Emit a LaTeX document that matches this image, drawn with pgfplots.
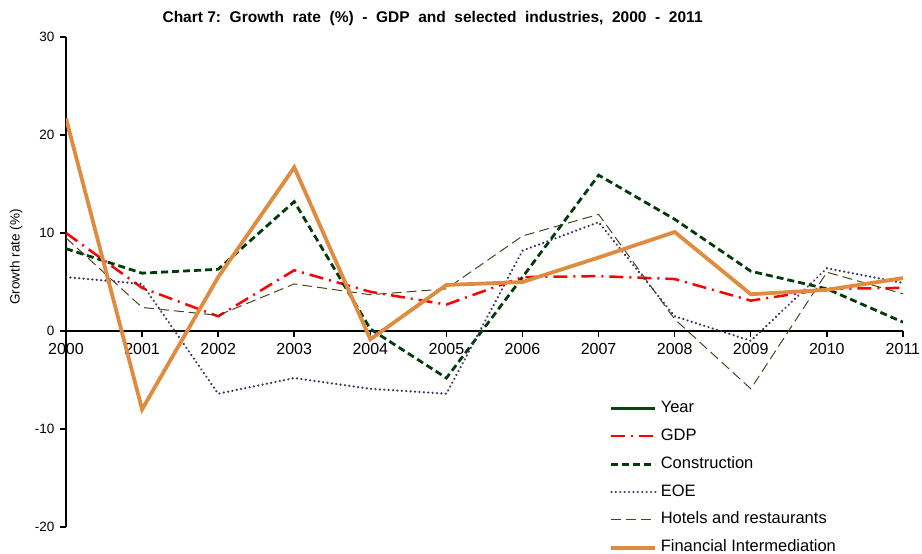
\documentclass[border=0pt]{standalone}
\usepackage{fontspec}
\setmainfont{Liberation Sans}
\usepackage{pgfplots}
\pgfplotsset{compat=1.18}
\definecolor{gdpred}{RGB}{255,0,0}
\definecolor{congreen}{RGB}{0,60,10}
\definecolor{yeargreen}{RGB}{10,70,20}
\definecolor{eoepurple}{RGB}{60,50,100}
\definecolor{hotolive}{RGB}{70,70,30}
\definecolor{finorange}{RGB}{224,140,64}
\begin{document}
\begin{tikzpicture}
\path[use as bounding box] (-66pt,-27pt) rectangle (856pt,527pt);
\begin{axis}[
  scale only axis, width=837pt, height=490pt,
  xmin=2000, xmax=2011, ymin=-20, ymax=30,
  axis x line=middle, axis y line=left,
  axis line style={-, line width=2.5pt, black},
  hide obscured x ticks=false,
  xtick={2000,...,2011}, ytick={-20,-10,0,10,20,30},
  tick align=outside, major tick length=6pt,
  tick style={line width=1.5pt, black},
  /pgf/number format/assume math mode=true,
  /pgf/number format/1000 sep={},
  x tick label style={font=\fontsize{16}{16}\selectfont, yshift=-3pt},
  y tick label style={font=\fontsize{13.5}{13.5}\selectfont, xshift=-2pt},
  ylabel={Growth rate (\%)},
  ylabel style={font=\fontsize{13.5}{13.5}\selectfont, at={(axis description cs:-0.0597,0.551)}, anchor=center},
  title={\bfseries Chart 7:\ \ Growth\ \ rate\ \ (\%)\ \ -\ \ GDP\ \ and\ \ selected\ \ industries,\ \ 2000\ \ -\ \ 2011},
  title style={font=\fontsize{15.5}{15.5}\selectfont, at={(0.438,1.0265)}, anchor=center},
  legend cell align=left,
  legend style={at={(0.6455,0.261)}, anchor=north west, draw=none, fill=none,
    font=\fontsize{16.5}{16.5}\selectfont, row sep=13.9pt,
    nodes={inner sep=0pt, text height=11pt, text depth=3pt, inner xsep=3.5pt}},
  legend image code/.code={\draw[#1] (0pt,0pt) -- (44pt,0pt);},
]
\addlegendimage{yeargreen, line width=2.5pt}
\addlegendentry{Year}
\addplot[gdpred, line width=2.5pt, dash pattern=on 14pt off 6pt on 2pt off 6pt] coordinates {
(2000,10.0) (2001,4.4) (2002,1.5) (2003,6.2) (2004,4.0) (2005,2.7) (2006,5.5) (2007,5.6) (2008,5.3) (2009,3.1) (2010,4.3) (2011,4.4)};
\addlegendentry{GDP}
\addplot[congreen, line width=2.8pt, dash pattern=on 7pt off 4pt] coordinates {
(2000,8.4) (2001,5.9) (2002,6.3) (2003,13.2) (2004,0.2) (2005,-4.8) (2006,5.5) (2007,15.9) (2008,11.4) (2009,6.1) (2010,4.3) (2011,0.9)};
\addlegendentry{Construction}
\addplot[eoepurple, line width=2.4pt, line cap=round, dash pattern=on 0.1pt off 4.3pt] coordinates {
(2000,5.5) (2001,4.8) (2002,-6.4) (2003,-4.8) (2004,-5.9) (2005,-6.4) (2006,8.2) (2007,11.1) (2008,1.5) (2009,-1.0) (2010,6.4) (2011,4.9)};
\addlegendentry{EOE}
\addplot[hotolive, line width=1pt, dash pattern=on 10pt off 5pt] coordinates {
(2000,9.5) (2001,2.4) (2002,1.6) (2003,4.8) (2004,3.7) (2005,4.3) (2006,9.7) (2007,11.9) (2008,1.2) (2009,-5.9) (2010,6.0) (2011,3.8)};
\addlegendentry{Hotels and restaurants}
\addplot[finorange, line width=3.8pt] coordinates {
(2000,21.7) (2001,-8.0) (2002,5.5) (2003,16.7) (2004,-0.85) (2005,4.7) (2006,5.0) (2007,7.5) (2008,10.1) (2009,3.75) (2010,4.2) (2011,5.4)};
\addlegendentry{Financial Intermediation}
\end{axis}
\end{tikzpicture}
\end{document}
